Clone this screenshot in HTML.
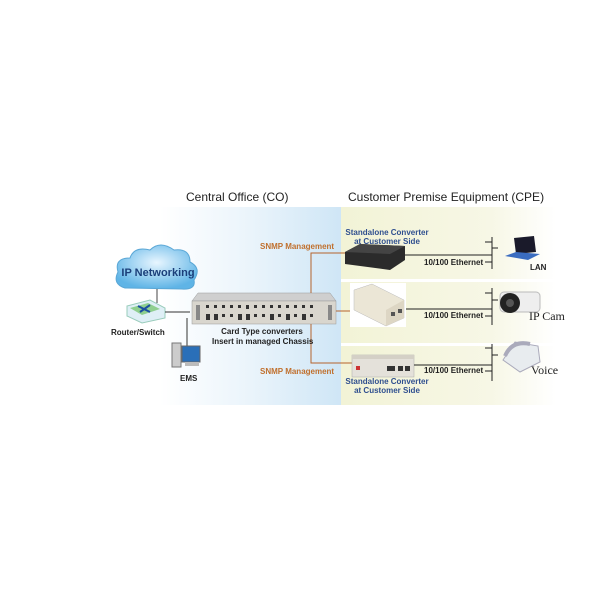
<!DOCTYPE html>
<html><head><meta charset="utf-8"><style>
body{margin:0;width:600px;height:600px;background:#fff;position:relative;overflow:hidden;font-family:"Liberation Sans",sans-serif}
.t{position:absolute;white-space:nowrap;font-weight:bold;font-size:8px}
</style></head><body>
<svg width="600" height="600" style="position:absolute;left:0;top:0">
<defs>
<linearGradient id="bl" x1="0" x2="1"><stop offset="0" stop-color="#fff"/><stop offset="0.5" stop-color="#eaf4fb"/><stop offset="1" stop-color="#cfe6f6"/></linearGradient>
<linearGradient id="yl" x1="0" x2="1"><stop offset="0" stop-color="#f2f3d6"/><stop offset="0.7" stop-color="#f7f7e6"/><stop offset="1" stop-color="#fff"/></linearGradient>
<radialGradient id="cl" cx="0.5" cy="0.4" r="0.6"><stop offset="0" stop-color="#e8f6ff"/><stop offset="1" stop-color="#5fb4e6"/></radialGradient>
</defs>
<rect x="160" y="207" width="181" height="198" fill="url(#bl)"/>
<rect x="341" y="207" width="215" height="198" fill="url(#yl)"/>
<rect x="341" y="279" width="215" height="3" fill="#fff"/>
<rect x="341" y="343" width="215" height="3" fill="#fff"/>
<!-- cloud -->
<g fill="url(#cl)" stroke="#5aa7d6" stroke-width="1">
<path d="M125 288 Q112 284 118 272 Q114 258 130 258 Q134 246 150 250 Q160 240 174 250 Q190 248 190 262 Q202 268 194 280 Q196 290 182 289 Z"/>
</g>
<text x="158" y="276" font-family="Liberation Sans" font-weight="bold" font-size="11" fill="#1b3f7a" text-anchor="middle">IP Networking</text>
<line x1="157" y1="289" x2="157" y2="303" stroke="#444"/>
<!-- router -->
<polygon points="127,306 150,300 165,308 165,318 142,323 127,316" fill="#dfeff6" stroke="#9cb"/>
<polygon points="130,308 148,303 160,309 142,315" fill="#8fcf8f"/>
<path d="M138 306 L150 312 M150 305 L140 312" stroke="#1b4fa0" stroke-width="2"/>
<line x1="165" y1="312" x2="190" y2="312" stroke="#333"/>
<line x1="187" y1="318" x2="187" y2="352" stroke="#333"/>
<line x1="187" y1="352" x2="182" y2="352" stroke="#333"/>
<!-- EMS -->
<rect x="172" y="343" width="9" height="24" fill="#ccc" stroke="#777"/>
<rect x="182" y="346" width="18" height="16" fill="#2a6fb8" stroke="#666"/>
<rect x="185" y="362" width="14" height="4" fill="#bbb"/>
<!-- chassis -->
<polygon points="192,301 198,293 330,293 336,301" fill="#cfcfcf" stroke="#999" stroke-width="0.5"/>
<rect x="192" y="301" width="144" height="23" fill="#d9d6ce" stroke="#999" stroke-width="0.5"/>
<g fill="#333">
<rect x="206" y="305" width="3" height="3"/><rect x="214" y="305" width="3" height="3"/><rect x="222" y="305" width="3" height="3"/><rect x="230" y="305" width="3" height="3"/><rect x="238" y="305" width="3" height="3"/><rect x="246" y="305" width="3" height="4"/><rect x="254" y="305" width="3" height="3"/><rect x="262" y="305" width="3" height="3"/><rect x="270" y="305" width="3" height="3"/><rect x="278" y="305" width="3" height="3"/><rect x="286" y="305" width="3" height="3"/><rect x="294" y="305" width="3" height="3"/><rect x="302" y="305" width="3" height="3"/><rect x="310" y="305" width="3" height="3"/>
<rect x="206" y="314" width="4" height="6"/><rect x="214" y="314" width="4" height="6"/><rect x="222" y="314" width="3" height="3"/><rect x="230" y="314" width="3" height="3"/><rect x="238" y="314" width="4" height="6"/><rect x="246" y="314" width="4" height="6"/><rect x="254" y="314" width="3" height="3"/><rect x="262" y="314" width="3" height="3"/><rect x="270" y="314" width="4" height="6"/><rect x="278" y="314" width="3" height="3"/><rect x="286" y="314" width="4" height="6"/><rect x="294" y="314" width="3" height="3"/><rect x="302" y="314" width="4" height="6"/><rect x="310" y="314" width="3" height="3"/>
<rect x="196" y="305" width="4" height="15" fill="#888"/><rect x="328" y="305" width="4" height="15" fill="#888"/>
</g>
<!-- orange connections -->
<g stroke="#b5632c" stroke-width="1" fill="none">
<polyline points="311,293 311,253 346,253"/>
<polyline points="311,324 311,363 352,363"/>
<line x1="336" y1="311" x2="352" y2="311"/>
</g>
<!-- top device -->
<polygon points="345,252 360,244 405,246 405,260 390,270 345,264" fill="#2b2b2b"/>
<polygon points="345,252 360,244 405,246 390,254" fill="#444"/>
<!-- middle device -->
<rect x="350" y="283" width="56" height="44" fill="#fff"/>
<polygon points="354,290 372,284 404,300 404,318 386,326 354,310" fill="#ebe6d6" stroke="#bbb" stroke-width="0.5"/>
<polygon points="386,310 404,300 404,318 386,326" fill="#ddd6c4"/>
<rect x="391" y="312" width="4" height="4" fill="#555"/><rect x="398" y="309" width="4" height="4" fill="#555"/>
<!-- bottom device -->
<rect x="352" y="355" width="62" height="22" fill="#e4e1da" stroke="#aaa" stroke-width="0.5"/>
<rect x="352" y="355" width="62" height="4" fill="#d4d0c6"/>
<rect x="356" y="366" width="4" height="4" fill="#c33"/>
<rect x="387" y="366" width="8" height="5" fill="#333"/><rect x="398" y="366" width="5" height="5" fill="#333"/><rect x="405" y="366" width="5" height="5" fill="#333"/>
<!-- ethernet lines -->
<g stroke="#222" stroke-width="1">
<line x1="405" y1="255" x2="492" y2="255"/><line x1="492" y1="237" x2="492" y2="269"/><line x1="485" y1="242" x2="492" y2="242"/><line x1="492" y1="248" x2="498" y2="248"/><line x1="485" y1="262" x2="492" y2="262"/>
<line x1="406" y1="309" x2="492" y2="309"/><line x1="492" y1="288" x2="492" y2="325"/><line x1="485" y1="293" x2="492" y2="293"/><line x1="492" y1="300" x2="498" y2="300"/><line x1="485" y1="316" x2="492" y2="316"/>
<line x1="414" y1="365" x2="492" y2="365"/><line x1="492" y1="344" x2="492" y2="381"/><line x1="485" y1="348" x2="492" y2="348"/><line x1="492" y1="355" x2="498" y2="355"/><line x1="485" y1="371" x2="492" y2="371"/>
</g>
<!-- laptop -->
<polygon points="514,238 534,236 536,252 516,254" fill="#1a1a2a"/>
<polygon points="505,256 516,252 540,254 528,260" fill="#3a6cc0"/>
<!-- camera -->
<rect x="500" y="292" width="40" height="20" rx="4" fill="#eee" stroke="#bbb"/>
<circle cx="510" cy="303" r="10" fill="#222"/><circle cx="510" cy="303" r="4" fill="#555"/>
<!-- phone -->
<polygon points="503,360 515,342 538,346 540,362 520,372" fill="#e8ecef" stroke="#aab"/>
<path d="M505 356 Q512 340 530 344" stroke="#aab" stroke-width="4" fill="none"/>
</svg>
<div class="t" style="left:186px;top:190px;font-size:12px;font-weight:normal;color:#222">Central Office (CO)</div>
<div class="t" style="left:348px;top:190px;font-size:12px;font-weight:normal;color:#222">Customer Premise Equipment (CPE)</div>
<div class="t" style="left:260px;top:242px;color:#c0702e">SNMP Management</div>
<div class="t" style="left:260px;top:367px;color:#c0702e">SNMP Management</div>
<div class="t" style="left:111px;top:328px;color:#222">Router/Switch</div>
<div class="t" style="left:180px;top:374px;color:#222">EMS</div>
<div class="t" style="left:212px;top:327px;width:100px;text-align:center;color:#222;line-height:10px">Card Type converters<br>Insert in managed Chassis</div>
<div class="t" style="left:342px;top:228px;width:90px;text-align:center;color:#2f4f8f;line-height:9px">Standalone Converter<br>at Customer Side</div>
<div class="t" style="left:342px;top:377px;width:90px;text-align:center;color:#2f4f8f;line-height:9px">Standalone Converter<br>at Customer Side</div>
<div class="t" style="left:424px;top:258px;color:#222">10/100 Ethernet</div>
<div class="t" style="left:424px;top:311px;color:#222">10/100 Ethernet</div>
<div class="t" style="left:424px;top:366px;color:#222">10/100 Ethernet</div>
<div class="t" style="left:530px;top:263px;color:#222">LAN</div>
<div class="t" style="left:529px;top:309px;font-family:'Liberation Serif',serif;font-weight:normal;font-size:12px;color:#222">IP Cam</div>
<div class="t" style="left:531px;top:363px;font-family:'Liberation Serif',serif;font-weight:normal;font-size:12px;color:#222">Voice</div>
</body></html>
